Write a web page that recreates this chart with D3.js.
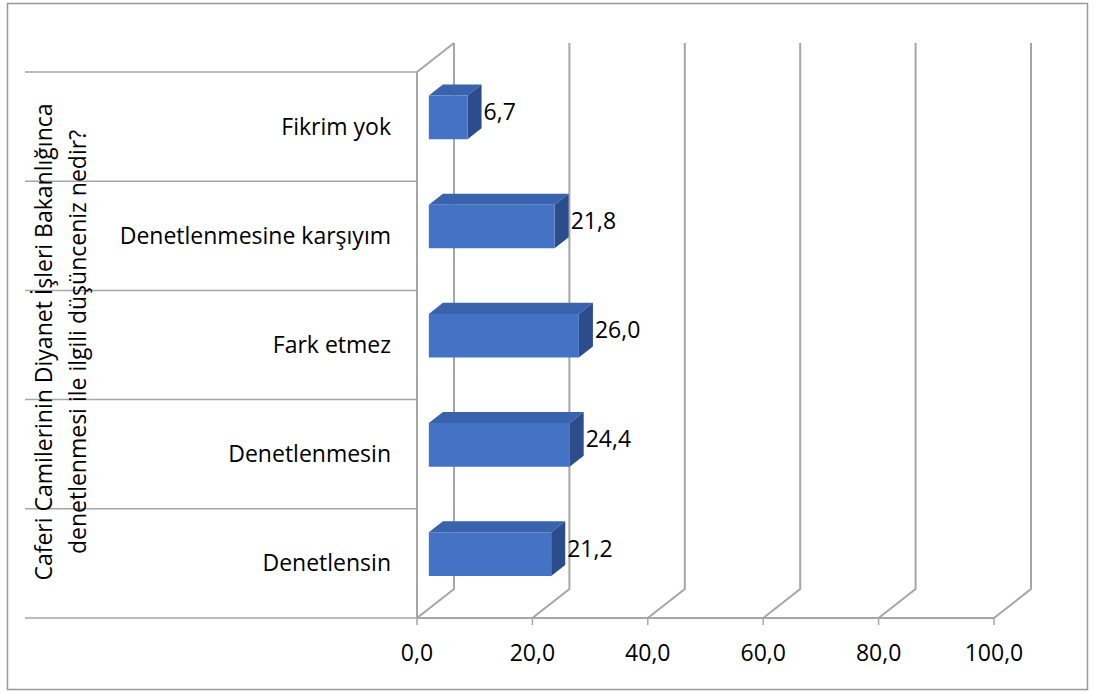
<!DOCTYPE html>
<html><head><meta charset="utf-8">
<script src="https://cdn.jsdelivr.net/npm/d3@7"></script>
<style>body{margin:0;background:#fff}svg{display:block}text{font-family:"Open Sans",sans-serif;fill:#000}</style>
</head><body>
<svg id="c" width="1095" height="693"></svg>
<script>
const categories = ["Denetlensin","Denetlenmesin","Fark etmez","Denetlenmesine karşıyım","Fikrim yok"];
const values = [21.2, 24.4, 26.0, 21.8, 6.7];
const valueLabels = ["21,2","24,4","26,0","21,8","6,7"];
const ticks = [0,20,40,60,80,100];
const tickLabels = ["0,0","20,0","40,0","60,0","80,0","100,0"];
const axisTitle = ["Caferi Camilerinin Diyanet İşleri Bakanlığınca","denetlenmesi ile ilgili düşünceniz nedir?"];

const svg = d3.select("#c");
const L = 417, R = 994, T = 72, B = 618, DX = 37, DY = -29;
const x = d3.scaleLinear().domain([0,100]).range([L,R]);
const y = d3.scaleBand().domain(d3.range(categories.length)).range([B,T]);
const P = (v, py, d) => [x(v) + DX*d, py + DY*d];
const grey = "#a6a6a6";

// outer border
svg.append("rect").attr("x",7.5).attr("y",3.5).attr("width",1080).attr("height",686)
  .attr("fill","#fff").attr("stroke","#999").attr("stroke-width",1.5);

const g = svg.append("g");
// back wall verticals and floor diagonals
ticks.forEach(t=>{
  const a = P(t, B, 1), b = P(t, T, 1), c = P(t, B, 0);
  g.append("path").attr("d", `M${b[0]},${b[1]}L${a[0]},${a[1]}L${c[0]},${c[1]}`)
   .attr("fill","none").attr("stroke",grey).attr("stroke-width",2);
});
// left wall
const lt0 = P(0,T,0), lt1 = P(0,T,1);
g.append("path").attr("d",`M${lt0[0]},${lt0[1]}L${lt1[0]},${lt1[1]}`).attr("stroke",grey).attr("stroke-width",2);
g.append("line").attr("x1",L).attr("x2",L).attr("y1",T).attr("y2",B).attr("stroke",grey).attr("stroke-width",2);
// floor front line
g.append("line").attr("x1",L).attr("x2",R).attr("y1",B).attr("y2",B).attr("stroke",grey).attr("stroke-width",2);
// category separators
d3.range(categories.length+1).forEach(i=>{
  const yy = B - i*y.step();
  g.append("line").attr("x1",25).attr("x2",L).attr("y1",yy).attr("y2",yy).attr("stroke",grey).attr("stroke-width",1.5);
});
// x ticks
ticks.forEach((t,i)=>{
  g.append("line").attr("x1",x(t)).attr("x2",x(t)).attr("y1",B).attr("y2",B+7).attr("stroke",grey).attr("stroke-width",1.5);
  g.append("text").attr("x",x(t)).attr("y",B+43).attr("text-anchor","middle").attr("font-size",23).text(tickLabels[i]);
});

// bars
const d0 = 0.32, d1 = 0.70, bh = 0.40;
categories.forEach((c,i)=>{
  const v = values[i];
  const cy = y(i) + y.bandwidth()/2;
  const top = cy - bh*y.bandwidth()/2, bot = cy + bh*y.bandwidth()/2;
  const f = [P(0,top,d0),P(v,top,d0),P(v,bot,d0),P(0,bot,d0)];
  const bk = [P(0,top,d1),P(v,top,d1),P(v,bot,d1)];
  const poly = pts => "M"+pts.map(p=>p.join(",")).join("L")+"Z";
  g.append("path").attr("d",poly([f[0],f[1],bk[1],bk[0]])).attr("fill","#3a63ad");
  g.append("path").attr("d",poly([f[1],f[2],bk[2],bk[1]])).attr("fill","#2c4d8c");
  g.append("path").attr("d",poly(f)).attr("fill","#4472c4");
  const lp = P(v, cy, (d0+d1)/2);
  g.append("text").attr("x",bk[1][0]+2).attr("y",lp[1]).attr("dy","0.35em").attr("font-size",23).text(valueLabels[i]);
  g.append("text").attr("x",391).attr("y",cy).attr("dy","0.35em").attr("text-anchor","end").attr("font-size",23).text(c);
});

// axis title
const tg = svg.append("text").attr("transform","translate(0,342) rotate(-90)").attr("text-anchor","middle").attr("font-size",23);
tg.append("tspan").attr("x",0).attr("y",52).text(axisTitle[0]);
tg.append("tspan").attr("x",0).attr("y",86).text(axisTitle[1]);
</script>
</body></html>
